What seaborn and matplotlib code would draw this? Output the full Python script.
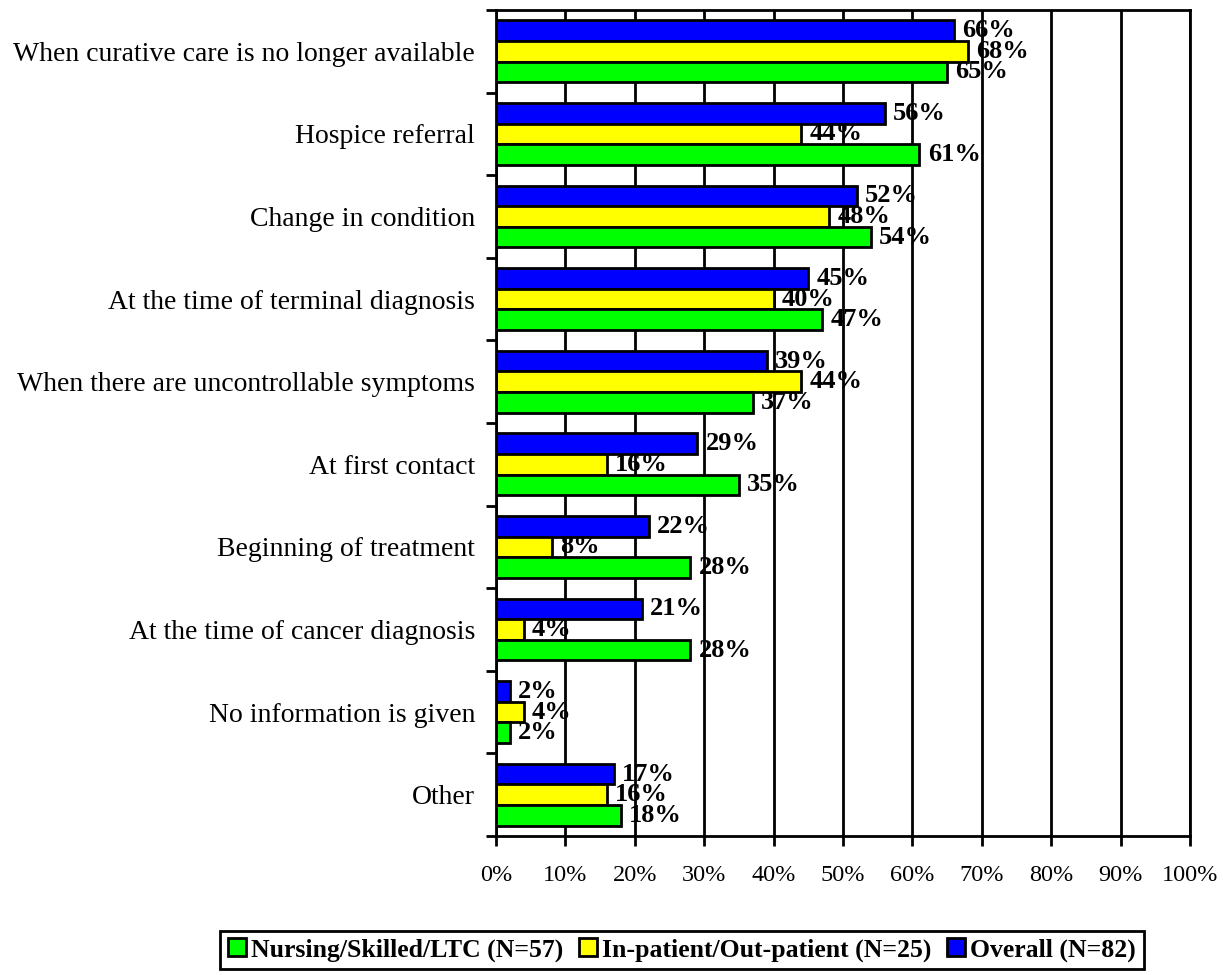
import matplotlib
matplotlib.use("Agg")
import matplotlib.pyplot as plt
from matplotlib.patches import Patch
import seaborn as sns
import pandas as pd
import numpy as np

categories = [
    "When curative care is no longer available",
    "Hospice referral",
    "Change in condition",
    "At the time of terminal diagnosis",
    "When there are uncontrollable symptoms",
    "At first contact",
    "Beginning of treatment",
    "At the time of cancer diagnosis",
    "No information is given",
    "Other",
]
overall = [66, 56, 52, 45, 39, 29, 22, 21, 2, 17]
inpatient = [68, 44, 48, 40, 44, 16, 8, 4, 4, 16]
nursing = [65, 61, 54, 47, 37, 35, 28, 28, 2, 18]

series_names = ["Overall (N=82)", "In-patient/Out-patient (N=25)", "Nursing/Skilled/LTC (N=57)"]
series_colors = ["#0000FF", "#FFFF00", "#00FF00"]
xticks = [0, 10, 20, 30, 40, 50, 60, 70, 80, 90, 100]

rows = []
for name, vals in zip(series_names, [overall, inpatient, nursing]):
    for c, v in zip(categories, vals):
        rows.append({"category": c, "series": name, "value": v})
df = pd.DataFrame(rows)

sns.set_theme(style="white", rc={"text.color": "black", "xtick.color": "black",
                                 "ytick.color": "black", "axes.labelcolor": "black",
                                 "axes.edgecolor": "black"})
plt.rcParams["font.family"] = ["Liberation Serif", "DejaVu Serif"]

fig = plt.figure(figsize=(12.23, 9.75), dpi=100)
ax = fig.add_axes([496 / 1223, 1 - 836 / 975, (1190 - 496) / 1223, (836 - 10) / 975])

sns.barplot(data=df, y="category", x="value", hue="series", order=categories,
            hue_order=series_names, palette=series_colors, orient="h",
            width=0.75, edgecolor="black", linewidth=2, ax=ax, legend=False,
            errorbar=None, saturation=1)

for cont in ax.containers:
    ax.bar_label(cont, fmt="{:.0f}%", padding=6, fontsize=19, fontweight="bold",
                 color="black")

ax.set_xlim(0, 100)
ax.set_ylim(len(categories) - 0.5, -0.5)
ax.set_xticks(xticks)
ax.set_xticklabels([f"{t}%" for t in xticks], fontsize=17.5, color="black")
ax.set_yticks(np.arange(-0.5, len(categories), 1.0))
ax.set_yticklabels([])
ax.set_yticks(np.arange(len(categories)), minor=True)
ax.set_yticklabels(categories, minor=True, fontsize=20, color="black")
ax.tick_params(axis="y", which="minor", length=0, pad=15)
ax.tick_params(axis="y", which="major", length=7, width=2, color="black", direction="out", left=True)
ax.tick_params(axis="x", length=7, width=2, color="black", direction="out", bottom=True, pad=14)
ax.set_xlabel("")
ax.set_ylabel("")
ax.xaxis.grid(True, color="black", linewidth=2)
ax.yaxis.grid(False)
ax.set_axisbelow(True)
for s in ax.spines.values():
    s.set_visible(True)
    s.set_color("black")
    s.set_linewidth(2)

order_leg = [2, 1, 0]
handles = [Patch(facecolor=series_colors[i], edgecolor="black", linewidth=2) for i in order_leg]
labels = [series_names[i] for i in order_leg]
leg = fig.legend(handles, labels, loc="center", bbox_to_anchor=(682 / 1223, 1 - 950 / 975),
                 ncol=3, frameon=True, fancybox=False, edgecolor="black", framealpha=1,
                 prop={"family": "Liberation Serif", "weight": "bold", "size": 18.5},
                 handlelength=0.7, handleheight=0.7, handletextpad=0.2,
                 columnspacing=0.6, borderpad=0.3, borderaxespad=0)
leg.get_frame().set_linewidth(2)
for t in leg.get_texts():
    t.set_color("black")

fig.savefig("out.png", dpi=100)
